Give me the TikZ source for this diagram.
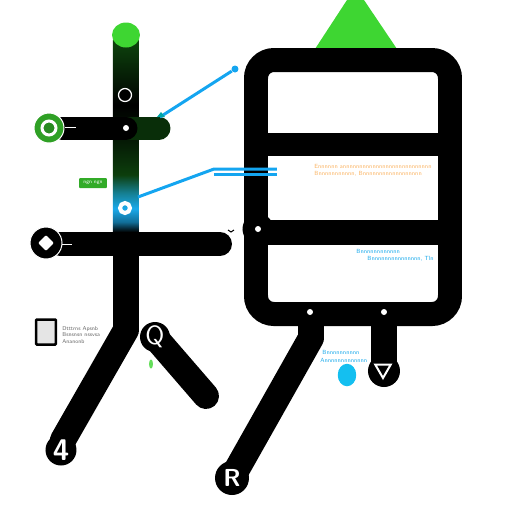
\documentclass[tikz,border=0pt]{standalone}
\usepackage{amssymb}
\usetikzlibrary{positioning,shapes.geometric}
\definecolor{figgreen}{RGB}{62,214,50}
\definecolor{darkgreen}{RGB}{12,62,12}
\definecolor{iconblue}{RGB}{27,170,235}
\definecolor{lineblue}{RGB}{20,165,240}
\definecolor{textorange}{RGB}{250,180,100}
\pgfdeclareverticalshading{stemshade}{100bp}{
  color(0bp)=(black);
  color(25bp)=(black);
  color(26bp)=(black);
  color(28.6bp)=(iconblue!65!black);
  color(32bp)=(iconblue);
  color(36bp)=(iconblue!60!darkgreen);
  color(40.6bp)=(darkgreen);
  color(49.5bp)=(darkgreen!40!black);
  color(58.4bp)=(black);
  color(73.7bp)=(darkgreen);
  color(100bp)=(darkgreen)}
\tikzset{
  bar/.style={line width=0.52cm, line cap=round, line join=round},
  hub/.style={circle, fill=black, inner sep=0pt, minimum size=#1*0.02cm},
  pin/.style={circle, fill=white, inner sep=0pt, minimum size=0.12cm},
  tiptext/.style={inner sep=0pt, anchor=west, font=\sffamily\fontsize{3.4}{4}\selectfont},
  wire/.style={draw=lineblue, line width=0.06cm}
}
\begin{document}
\begin{tikzpicture}[x=0.02cm, y=-0.02cm]
  \useasboundingbox (0,0) rectangle (512,512);

  % panel and top marker
  \fill[figgreen] (347,0) -- (364,0) -- (397,49) -- (315,49) -- cycle;
  \draw[line width=0.48cm, rounded corners=0.36cm] (256,60) rectangle (450,314);
  \fill[black] (256,133) rectangle (450,156);
  \fill[black] (256,220) rectangle (450,245);

  % stem
  \coordinate (S1) at (126,35);
  \coordinate (S2) at (126,330);
  \coordinate (S3) at (63,440);
  \coordinate (S4) at (61,450);
  \shade[shading=stemshade] (113,40) rectangle (139,236);
  \draw[bar] (126,246) -- (S2) -- (S3) -- (S4);
  \node[ellipse, fill=figgreen, inner sep=0pt, minimum width=0.56cm, minimum height=0.5cm] (T) at (S1) {};

  % crossbars
  \coordinate (B1) at (62,128);
  \coordinate (B2) at (126,128);
  \coordinate (B3) at (159,128);
  \coordinate (C1) at (60,244);
  \coordinate (C2) at (220,244);
  \draw[bar, line width=0.46cm, darkgreen!75!black] (B2) -- (B3);
  \draw[bar, line width=0.46cm] (B1) -- (B2);
  \draw[bar, line width=0.48cm] (C1) -- (C2);

  % end nodes of stem and bars
  \node[circle, fill=figgreen!75!black, draw=white, line width=0.02cm, inner sep=0pt, minimum size=0.6cm] (G) at (49,128) {};
  \node[circle, fill=figgreen!65!black, draw=white, line width=0.06cm, inner sep=0pt, minimum size=0.28cm] (G') at (G) {};
  \node[hub=32, draw=white, line width=0.02cm] (D) at (46,243) {};
  \node[diamond, fill=white, inner sep=0pt, minimum size=0.32cm, rounded corners=0.02cm] (D') at (D) {};
  \draw[white, line width=0.02cm] (65,127) -- (76,127);
  \draw[white, line width=0.02cm] (62,244) -- (72,244);
  \node[pin] (P1) at (B2) {};
  \node[circle, fill=black, draw=white, line width=0.025cm, inner sep=0pt, minimum size=0.26cm] (R1) at (125,95) {};
  \node[circle, draw=white, line width=0.08cm, inner sep=0pt, minimum size=0.2cm] (R2) at (125,208) {};
  \node[hub=31, text=white, font=\sffamily\bfseries\fontsize{17}{17}\selectfont] (N4) at (S4) {4};

  % branch with Q
  \coordinate (Q1) at (206,396);
  \node[hub=30] (NQ) at (155,337) {};
  \draw[bar] (NQ.center) -- (Q1);
  \node[text=white, inner sep=0pt, font=\sffamily\fontsize{15}{15}\selectfont] (NQ') at (NQ) {Q};
  \node[ellipse, fill=figgreen!80, inner sep=0pt, minimum width=0.08cm, minimum height=0.18cm] (GB) at (151,364) {};

  % legs of panel
  \coordinate (L1) at (311,320);
  \coordinate (L2) at (311,338);
  \node[hub=34] (NR) at (232,478) {};
  \draw[bar] (L1) -- (L2) -- (NR.center);
  \node[text=white, inner sep=0pt, font=\sffamily\bfseries\fontsize{14}{14}\selectfont] (NR') at (NR) {R};
  \node[hub=32] (NV) at (384,371) {};
  \draw[bar] (384,320) -- (NV.center);
  \node[regular polygon, regular polygon sides=3, shape border rotate=180, draw=white, line width=0.04cm, inner sep=0pt, minimum size=0.36cm] (V) at (383,369) {};
  \node[pin] (P2) at (310,312) {};
  \node[pin] (P3) at (384,312) {};
  \node[hub=31] (NH) at (258,229) {};
  \node[pin] (P4) at (NH) {};
  \draw[line width=0.02cm] (228,230) -- (231,232) -- (234,230);
  \node[ellipse, fill=iconblue!75!cyan, inner sep=0pt, minimum width=0.37cm, minimum height=0.45cm] (BB) at (347,375) {};

  % blue connectors
  \node[circle, fill=lineblue, inner sep=0pt, minimum size=0.14cm] (E1) at (235,69) {};
  \coordinate (E2) at (160,117);
  \coordinate (E3) at (138,197);
  \coordinate (E4) at (214,169);
  \coordinate (E5) at (277,169);
  \coordinate (E6) at (214,174);
  \coordinate (E7) at (277,174);
  \draw[wire] (E1) -- (E2);
  \fill[teal!70!cyan] (157,117) -- (161,112) -- (165,117) -- cycle;
  \draw[wire] (E3) -- (E4) -- (E5);
  \draw[wire] (E6) -- (E7);

  % small labels
  \node[fill=figgreen!80!black, text=white, rounded corners=0.02cm, inner sep=0pt, minimum width=0.56cm, minimum height=0.2cm, font=\sffamily\fontsize{3}{3}\selectfont] (LG) at (93,183) {ngn ngn};
  \node[draw=black, line width=0.05cm, fill=black!10, rounded corners=0.02cm, inner sep=0pt, minimum width=0.4cm, minimum height=0.5cm] (Doc) at (46,332) {};
  \node[tiptext, text=black!60, align=left, font=\sffamily\fontsize{3.2}{3.9}\selectfont] (TD) at (62,335) {Dtttrns Apsnb\\Bsnsnsn nssvsa\\Ananonb};
  \node[tiptext, text=textorange] (TO1) at (314,166) {Ennnnnn annnnnnnnnnnnnnnnnnnnnnnnnnn};
  \node[tiptext, text=textorange] (TO2) at (314,174) {Bnnnnnnnnnnn, Bnnnnnnnnnnnnnnnnnn};
  \node[tiptext, text=iconblue] (TB1) at (356,251) {Bnnnnnnnnnnnn};
  \node[tiptext, text=iconblue] (TB2) at (367,259) {Bnnnnnnnnnnnnnnn, Tln};
  \node[tiptext, text=iconblue] (TB3) at (322,352) {Bnnnnnnnnnn};
  \node[tiptext, text=iconblue] (TB4) at (320,360) {Annnnnnnnnnnnn};
\end{tikzpicture}
\end{document}
